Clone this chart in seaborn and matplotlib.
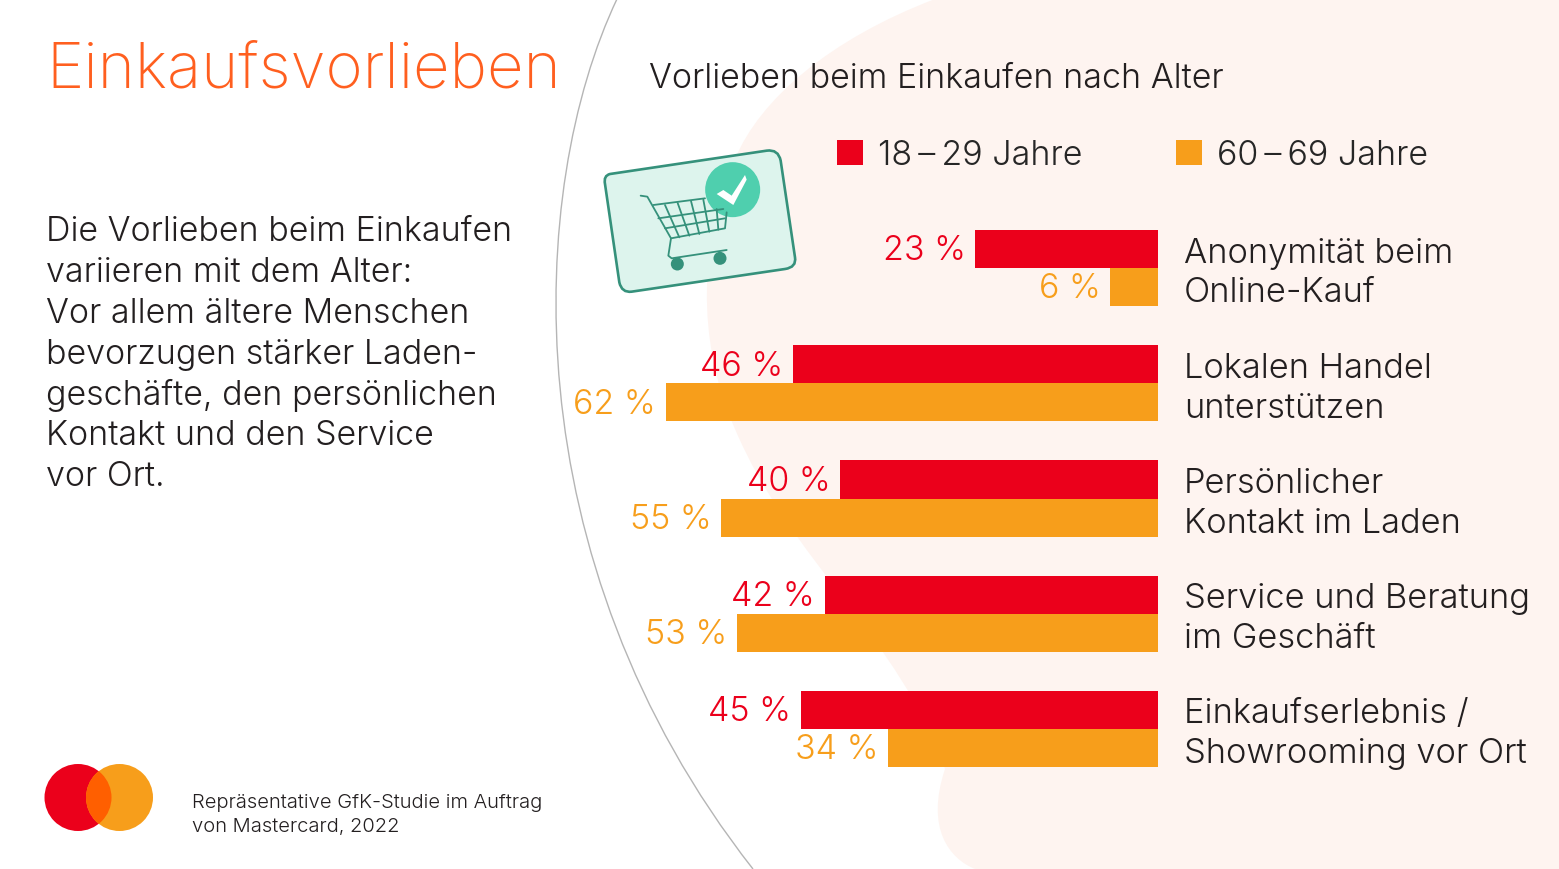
import matplotlib
matplotlib.use("Agg")
import matplotlib.pyplot as plt
import pandas as pd
import seaborn as sns
from matplotlib.patches import Circle, PathPatch, Polygon
from matplotlib.path import Path
from matplotlib.transforms import ScaledTranslation

# data
categories = ["Anonymität beim\nOnline-Kauf", "Lokalen Handel\nunterstützen", "Persönlicher\nKontakt im Laden",
              "Service und Beratung\nim Geschäft", "Einkaufserlebnis /\nShowrooming vor Ort"]
young = [23, 46, 40, 42, 45]
old = [6, 62, 55, 53, 34]
age_labels = ["18\u2009–\u200929 Jahre", "60\u2009–\u200969 Jahre"]

RED = "#EB001B"
ORANGE = "#F79E1B"
TEXT = "#231F20"
W, H = 1559, 870

df = pd.DataFrame({
    "Kategorie": categories * 2,
    "Wert": young + old,
    "Alter": [age_labels[0]] * 5 + [age_labels[1]] * 5,
})

sns.set_theme(style="white")
plt.rcParams["font.family"] = ["Inter", "DejaVu Sans"]
plt.rcParams["font.weight"] = 300

fig = plt.figure(figsize=(W / 100, H / 100), dpi=100)

# background layer in pixel coordinates
bg = fig.add_axes([0, 0, 1, 1])
bg.set_xlim(0, W)
bg.set_ylim(H, 0)
bg.axis("off")

blob = Path(
    [(935, 0), (830, 40), (760, 100), (735, 160), (700, 240), (695, 340), (735, 430),
     (790, 560), (900, 640), (945, 770), (925, 830), (950, 860), (975, 870),
     (1559, 870), (1559, 0), (935, 0)],
    [Path.MOVETO, Path.CURVE4, Path.CURVE4, Path.CURVE4, Path.CURVE4, Path.CURVE4, Path.CURVE4,
     Path.CURVE4, Path.CURVE4, Path.CURVE4, Path.CURVE4, Path.CURVE4, Path.CURVE4,
     Path.LINETO, Path.LINETO, Path.CLOSEPOLY],
)
bg.add_patch(PathPatch(blob, fc="#FEF4F0", ec="none"))

arc = Path([(617, 0), (527, 190), (510, 560), (753, 870)],
           [Path.MOVETO, Path.CURVE4, Path.CURVE4, Path.CURVE4])
bg.add_patch(PathPatch(arc, fc="none", ec="#B5B5B5", lw=1))

bg.text(46, 88, "Einkaufsvorlieben", color="#FF5F1F", fontsize=45.6, weight=200, va="baseline", ha="left")
bg.text(649, 79, "Vorlieben beim Einkaufen nach Alter", color=TEXT, fontsize=24.5, va="center", ha="left")

body = ["Die Vorlieben beim Einkaufen", "variieren mit dem Alter:", "Vor allem ältere Menschen",
        "bevorzugen stärker Laden-", "geschäfte, den persönlichen", "Kontakt und den Service", "vor Ort."]
for i, line in enumerate(body):
    bg.text(46, 232 + i * 40.9, line, color=TEXT, fontsize=24.5, va="center", ha="left")

bg.text(192, 803, "Repräsentative GfK-Studie im Auftrag", color=TEXT, fontsize=14.5, va="center", ha="left")
bg.text(192, 827, "von Mastercard, 2022", color=TEXT, fontsize=14.5, va="center", ha="left")

# logo
bg.add_patch(Circle((78, 798.5), 33.5, fc=RED, ec="none"))
bg.add_patch(Circle((119.5, 798.5), 33.5, fc=ORANGE, ec="none"))
lens = Circle((119.5, 798.5), 33.5, fc="#FF5F00", ec="none")
bg.add_patch(lens)
lens.set_clip_path(Circle((78, 798.5), 33.5, transform=bg.transData))


# icon, points taken from a 3x crop starting at (590, 130)
def z(x, y):
    return (590 + x / 3, 130 + y / 3)


GREEN = "#35917B"
card = Path(
    [z(60, 135), z(530, 65), z(565, 60), z(572, 95), z(615, 385), z(620, 415), z(585, 420),
     z(125, 488), z(95, 492), z(88, 460), z(45, 165), z(40, 140), z(60, 135), z(60, 135)],
    [Path.MOVETO, Path.LINETO, Path.CURVE3, Path.CURVE3, Path.LINETO, Path.CURVE3, Path.CURVE3,
     Path.LINETO, Path.CURVE3, Path.CURVE3, Path.LINETO, Path.CURVE3, Path.CURVE3, Path.CLOSEPOLY],
)
bg.add_patch(PathPatch(card, fc="#DDF4ED", ec=GREEN, lw=1.9))

cart_lines = [
    [(152, 200), (172, 203), (243, 328), (235, 380), (245, 388), (410, 363)],
    [(190, 228), (345, 208)],
    [(205, 268), (400, 240)],
    [(225, 298), (405, 268)],
    [(243, 328), (405, 298), (410, 250)],
    [(225, 228), (268, 325)],
    [(263, 222), (298, 320)],
    [(303, 216), (328, 315)],
    [(340, 212), (358, 308)],
    [(380, 240), (385, 302)],
]
for pts in cart_lines:
    xy = [z(*p) for p in pts]
    bg.plot([p[0] for p in xy], [p[1] for p in xy], color=GREEN, lw=1.3, solid_capstyle="round")
bg.add_patch(Circle(z(262, 405), 6.5, fc=GREEN, ec="none"))
bg.add_patch(Circle(z(390, 388), 6.5, fc=GREEN, ec="none"))
bg.add_patch(Circle(z(428, 182), 27.5, fc="#4FCFAE", ec="none"))
check = [(380, 195), (400, 183), (425, 200), (465, 138), (470, 152), (430, 228)]
bg.add_patch(Polygon([z(*p) for p in check], fc="white", ec="none"))

# bars, right edge at x=1158, 7.94 px per percent
left_px, right_px = 558, 1158
top_px, bottom_px = 211.4, 787.6
ax = fig.add_axes([left_px / W, 1 - bottom_px / H, (right_px - left_px) / W, (bottom_px - top_px) / H])
ax.patch.set_alpha(0)
sns.barplot(data=df, y="Kategorie", x="Wert", hue="Alter", palette=[RED, ORANGE],
            width=0.66, gap=0, saturation=1, linewidth=0, ax=ax)
ax.set_xlim((right_px - left_px) / 7.94, 0)
ax.set_ylim(4.5, -0.5)
ax.set_xlabel("")
ax.set_ylabel("")
ax.set_xticks([])
ax.yaxis.tick_right()
ax.tick_params(axis="y", length=0, pad=18.5)
up = ScaledTranslation(0, 3 / 100, fig.dpi_scale_trans)
for lab in ax.get_yticklabels():
    lab.set_fontsize(24.8)
    lab.set_color(TEXT)
    lab.set_linespacing(1.31)
    lab.set_transform(lab.get_transform() + up)
sns.despine(ax=ax, left=True, right=True, top=True, bottom=True)

for cont, col in zip(ax.containers, [RED, ORANGE]):
    for t in ax.bar_label(cont, fmt="%g %%", padding=7, color=col, fontsize=24.5):
        t.xyann = (t.xyann[0], -1)

sns.move_legend(ax, "center left", bbox_to_anchor=(837 / W, 1 - 156 / H), bbox_transform=fig.transFigure,
                ncol=2, frameon=False, title=None, fontsize=24.5, handlelength=0.76, handleheight=0.76,
                handletextpad=0.45, columnspacing=2.75, borderpad=0, borderaxespad=0)

fig.savefig("out.png", dpi=100)
